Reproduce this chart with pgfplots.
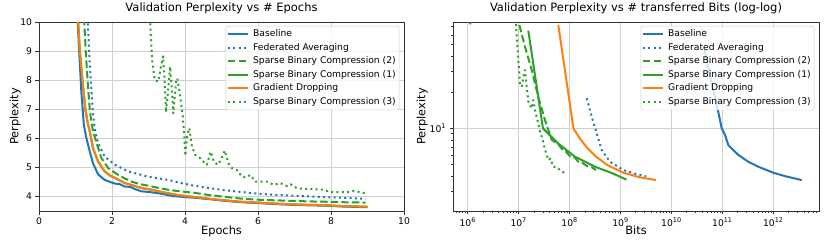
\documentclass[border=0pt]{standalone}
\usepackage{fontspec}
\setmainfont{DejaVu Sans}
\usepackage{pgfplots}
\pgfplotsset{compat=1.18}
\definecolor{c0}{HTML}{1F77B4}
\definecolor{c1}{HTML}{FF7F0E}
\definecolor{c2}{HTML}{2CA02C}
\definecolor{gridc}{HTML}{D0D0D0}
\pgfplotsset{
  mystyle/.style={
    scale only axis, height=189pt,
    axis line style={black!80, line width=0.8pt},
    grid=major, major grid style={gridc, line width=0.8pt},
    tick align=outside, tick pos=left,
    major tick length=3.5pt, minor tick length=2pt,
    every tick/.append style={black!80, line width=0.8pt},
    tick label style={font=\fontsize{9.2}{11}\selectfont},
    label style={font=\fontsize{11.4}{13}\selectfont},
    title style={font=\fontsize{11.5}{13}\selectfont, at={(rel axis cs:0.5,1)}, anchor=south, inner sep=0pt, yshift=2pt},
    xlabel style={at={(rel axis cs:0.5,0)}, anchor=north, inner sep=0pt, yshift=-15pt},
    legend cell align=left,
    legend style={at={(rel axis cs:0.987,0.979)}, anchor=north east,
      font=\fontsize{9.2}{11}\selectfont, draw=black!20, fill=white,
      fill opacity=0.8, text opacity=1, draw opacity=1, rounded corners=2pt,
      inner sep=1.1pt, row sep=0pt, column sep=1.9pt,
      nodes={inner sep=2.2pt, text height=7pt, text depth=2.2pt}},
    legend image code/.code={\draw[#1] (0pt,0pt) -- (20pt,0pt);},
    every axis plot/.append style={line width=2pt, line join=round},
  },
  sbase/.style={c0, solid},
  sfed/.style={c0, dash pattern=on 2pt off 3.3pt},
  ssbc2/.style={c2, dash pattern=on 7.4pt off 3.2pt},
  ssbc1/.style={c2, solid},
  sgd/.style={c1, solid},
  ssbc3/.style={c2, dash pattern=on 2pt off 3.3pt},
}
\begin{document}
\begin{tikzpicture}
\useasboundingbox (-39pt,-38pt) rectangle (791pt,211pt);
% ---------------- left: epochs ----------------
\begin{axis}[mystyle, width=365pt, at={(0pt,0pt)}, anchor=south west,
  xmin=0, xmax=10, ymin=3.5, ymax=10,
  xtick={0,2,4,6,8,10}, ytick={4,5,6,7,8,9,10},
  /pgf/number format/assume math mode=true,
  title={Validation Perplexity vs \# Epochs},
  xlabel={Epochs}, ylabel={Perplexity},
  ylabel style={at={([xshift=-18pt]rel axis cs:0,0.5)}, anchor=south, inner sep=0pt},
]
\addplot[sbase] coordinates {(1.04,10.5)(1.10,9.0)(1.16,7.6)(1.23,6.45)(1.30,6.0)(1.39,5.55)(1.48,5.14)(1.62,4.76)(1.80,4.57)(1.95,4.50)(2.08,4.44)(2.20,4.43)(2.35,4.34)(2.50,4.33)(2.63,4.25)(2.80,4.18)(2.95,4.16)(3.10,4.14)(3.27,4.11)(3.45,4.07)(3.64,4.02)(3.90,3.99)(4.23,3.96)(4.60,3.915)(5.05,3.855)(5.50,3.805)(5.97,3.775)(6.40,3.745)(6.89,3.715)(7.40,3.695)(7.80,3.685)(8.30,3.655)(8.60,3.645)(9.00,3.63)};
\addlegendentry{Baseline}
\addplot[sfed] coordinates {(1.32,10.5)(1.37,9.0)(1.42,8.0)(1.47,7.0)(1.52,6.4)(1.58,6.0)(1.62,5.83)(1.80,5.37)(2.08,5.09)(2.45,4.86)(2.99,4.68)(3.54,4.57)(3.90,4.46)(4.20,4.38)(4.60,4.30)(5.05,4.22)(5.50,4.16)(5.97,4.10)(6.40,4.06)(6.89,4.03)(7.40,4.00)(7.80,3.98)(8.40,3.95)(8.95,3.92)};
\addlegendentry{Federated Averaging}
\addplot[ssbc2] coordinates {(1.22,10.5)(1.28,9.0)(1.33,8.0)(1.39,7.0)(1.43,6.6)(1.48,6.25)(1.58,5.83)(1.71,5.32)(1.90,4.97)(2.17,4.74)(2.35,4.62)(2.54,4.51)(2.75,4.43)(2.99,4.37)(3.25,4.30)(3.54,4.23)(3.90,4.17)(4.23,4.13)(4.60,4.06)(5.05,3.99)(5.50,3.93)(5.97,3.89)(6.40,3.87)(6.89,3.85)(7.40,3.83)(7.80,3.82)(8.40,3.80)(8.95,3.79)};
\addlegendentry{Sparse Binary Compression (2)}
\addplot[ssbc1] coordinates {(1.05,10.5)(1.12,9.0)(1.19,8.0)(1.27,7.0)(1.33,6.55)(1.39,6.25)(1.48,5.66)(1.62,5.20)(1.80,4.86)(1.95,4.72)(2.08,4.64)(2.20,4.56)(2.35,4.46)(2.50,4.41)(2.72,4.32)(2.90,4.27)(3.09,4.23)(3.30,4.17)(3.54,4.11)(3.80,4.05)(4.14,4.00)(4.60,3.93)(5.05,3.87)(5.50,3.82)(5.97,3.79)(6.40,3.76)(6.89,3.73)(7.40,3.71)(7.80,3.70)(8.30,3.67)(8.60,3.66)(9.00,3.645)};
\addlegendentry{Sparse Binary Compression (1)}
\addplot[sgd] coordinates {(1.05,10.5)(1.12,9.0)(1.19,8.0)(1.27,7.0)(1.33,6.55)(1.39,6.25)(1.48,5.66)(1.62,5.20)(1.80,4.86)(1.95,4.72)(2.08,4.64)(2.20,4.56)(2.35,4.46)(2.50,4.41)(2.72,4.32)(2.90,4.27)(3.09,4.23)(3.30,4.17)(3.54,4.11)(3.80,4.05)(4.14,4.00)(4.60,3.93)(5.05,3.87)(5.50,3.82)(5.97,3.79)(6.40,3.76)(6.89,3.73)(7.40,3.71)(7.80,3.70)(8.30,3.67)(8.60,3.66)(9.00,3.645)};
\addlegendentry{Gradient Dropping}
\addplot[ssbc3] coordinates {(3.03,10.5)(3.06,9.6)(3.10,8.7)(3.17,8.0)(3.27,7.95)(3.33,8.4)(3.40,8.82)(3.45,7.78)(3.48,6.9)(3.55,7.8)(3.59,8.46)(3.64,7.66)(3.68,6.86)(3.76,8.0)(3.79,8.06)(3.87,7.43)(3.94,6.75)(3.98,6.06)(4.01,5.40)(4.06,6.1)(4.12,6.35)(4.19,5.72)(4.28,5.43)(4.41,5.32)(4.55,5.14)(4.60,5.09)(4.70,5.54)(4.80,5.18)(4.90,5.09)(4.98,5.25)(5.09,5.58)(5.19,5.14)(5.29,4.97)(5.42,4.91)(5.56,4.68)(5.68,4.66)(5.79,4.74)(5.93,4.51)(6.25,4.51)(6.43,4.40)(6.61,4.46)(6.80,4.36)(6.89,4.42)(7.07,4.28)(7.50,4.25)(7.80,4.23)(7.99,4.15)(8.45,4.15)(8.63,4.19)(8.95,4.11)};
\addlegendentry{Sparse Binary Compression (3)}
\end{axis}
% ---------------- right: bits (log-log) ----------------
\begin{axis}[mystyle, width=366pt, at={(414pt,0pt)}, anchor=south west,
  xmode=log, ymode=log,
  xmin=5.14e5, xmax=7.9e12, ymin=2.05, ymax=76.9,
  xtick={1e6,1e7,1e8,1e9,1e10,1e11,1e12},
  xticklabels={10\textsuperscript{6},10\textsuperscript{7},10\textsuperscript{8},10\textsuperscript{9},10\textsuperscript{10},10\textsuperscript{11},10\textsuperscript{12}},
  minor xtick={6e5,7e5,8e5,9e5,2e6,3e6,4e6,5e6,6e6,7e6,8e6,9e6,2e7,3e7,4e7,5e7,6e7,7e7,8e7,9e7,2e8,3e8,4e8,5e8,6e8,7e8,8e8,9e8,2e9,3e9,4e9,5e9,6e9,7e9,8e9,9e9,2e10,3e10,4e10,5e10,6e10,7e10,8e10,9e10,2e11,3e11,4e11,5e11,6e11,7e11,8e11,9e11,2e12,3e12,4e12,5e12,6e12,7e12},
  ytick={10}, yticklabels={10\textsuperscript{1}},
  minor ytick={3,4,5,6,7,8,9,20,30,40,50,60,70},
  title={Validation Perplexity vs \# transferred Bits (log-log)},
  xlabel={Bits}, ylabel={Perplexity},
  ylabel style={at={([xshift=-25pt]rel axis cs:0,0.5)}, anchor=south, inner sep=0pt},
]
\addplot[sbase] coordinates {(4.42e10,45.8)(6.73e10,20.2)(8.32e10,13.7)(9.7e10,10)(1.13e11,8.8)(1.31e11,7.26)(2.06e11,6.0)(3.24e11,5.27)(5.08e11,4.79)(1e12,4.27)(1.7e12,4.0)(3.61e12,3.71)};
\addlegendentry{Baseline}
\addplot[sfed] coordinates {(2.17e8,17.8)(2.72e8,12.5)(3.41e8,9.08)(4.28e8,6.59)(6.22e8,5.27)(1.14e9,4.5)(2.08e9,4.16)(3.17e9,4.0)};
\addlegendentry{Federated Averaging}
\addplot[ssbc2] coordinates {(1.03e7,72.7)(1.33e7,47.9)(1.81e7,30.6)(2.43e7,18.3)(3.29e7,11.7)(4.46e7,8.0)(5.5e7,7.6)(6.3e7,7.2)(7.5e7,6.5)(8.5e7,6.4)(1.0e8,5.9)(1.2e8,5.85)(1.5e8,5.25)(1.8e8,5.15)(2.2e8,4.85)(2.7e8,4.75)(3.3e8,4.5)};
\addlegendentry{Sparse Binary Compression (2)}
\addplot[ssbc1] coordinates {(1.55e7,65)(3.0e7,10)(5.93e7,7.5)(1.28e8,5.8)(3.16e8,4.79)(6.81e8,4.24)(1.31e9,3.74)};
\addlegendentry{Sparse Binary Compression (1)}
\addplot[sgd] coordinates {(6.0e7,72.7)(1.19e8,10)(1.6e8,8.2)(2.2e8,6.9)(3.16e8,5.9)(5.5e8,4.95)(1.14e9,4.27)(2.42e9,3.91)(4.98e9,3.71)};
\addlegendentry{Gradient Dropping}
\addplot[ssbc3] coordinates {(1.11e6,73.5)(8.5e6,2000)(8.87e6,72.6)(9.86e6,37.1)(1.06e7,23.7)(1.15e7,22.2)(1.24e7,26.9)(1.33e7,30.6)(1.44e7,22.2)(1.55e7,16.7)(1.68e7,15.5)(1.81e7,14.7)(1.94e7,17.2)(2.1e7,14.2)(2.25e7,12.5)(2.43e7,11.0)(2.6e7,9.5)(2.84e7,8.51)(3.0e7,7.9)(3.29e7,6.59)(3.5e7,6.2)(3.83e7,5.44)(4.2e7,5.6)(4.8e7,4.79)(5.5e7,4.75)(6.49e7,4.5)(7.2e7,4.35)(8.5e7,4.2)};
\addlegendentry{Sparse Binary Compression (3)}
\end{axis}
\end{tikzpicture}
\end{document}
